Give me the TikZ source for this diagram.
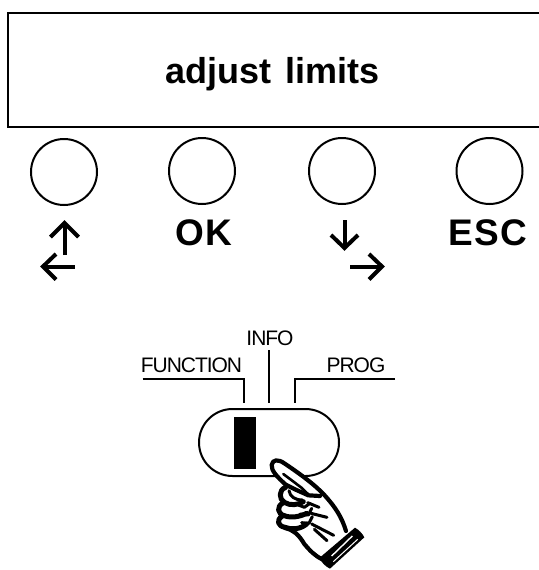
\documentclass[tikz,border=0pt]{standalone}
\usepackage{fontspec}
\setmainfont{Liberation Sans}
\newfontfamily\tightsans[LetterSpace=-5]{Liberation Sans}
\newfontfamily\widesans[LetterSpace=3,BoldFont={Liberation Sans Bold}]{Liberation Sans}
\tikzset{
  px/.style={x=1pt,y=-1pt},
  btn/.style={circle,draw,line width=2pt,inner sep=0pt,minimum size=66pt},
  keylab/.style={font=\widesans\bfseries\fontsize{37}{37}\selectfont,inner sep=0pt,anchor=base},
  swlab/.style={font=\tightsans\fontsize{21}{21}\selectfont,inner sep=0pt,anchor=base},
  leader/.style={line width=2pt},
  arw/.style={line width=4pt,line cap=butt,line join=miter},
  handline/.style={line width=4.2pt,line cap=round,line join=round},
  handfine/.style={line width=3pt,line cap=round,line join=round}
}
\begin{document}
\begin{tikzpicture}[px]
\useasboundingbox (0,0) rectangle (538,570);
\node[draw,line width=2.2pt,minimum width=545pt,minimum height=114pt,inner sep=0pt,anchor=north west] (disp) at (7,12) {};
\node[font=\bfseries\fontsize{36}{36}\selectfont,inner sep=0pt,anchor=base] (title) at (272.5,83) {adjust\hspace{0.12em} limits};
\node[btn] (b1) at (64,172) {};
\node[btn] (b2) at (202,171) {};
\node[btn] (b3) at (342,171) {};
\node[btn] (b4) at (489.5,171) {};
\node[keylab] (ok) at (204,245.5) {OK};
\node[keylab] (esc) at (488,245.5) {ESC};
% arrows
\draw[arw] (64.5,255) -- (64.5,224);
\draw[arw] (50.5,237) -- (64.5,223) -- (78.5,237);
\draw[arw] (74.5,266.5) -- (45,266.5);
\draw[arw] (56,254) -- (43,266.5) -- (56,279.5);
\draw[arw] (344.5,220) -- (344.5,246);
\draw[arw] (331,235) -- (344.5,248) -- (358,235);
\draw[arw] (350,266.5) -- (380,266.5);
\draw[arw] (369,254) -- (382,266.5) -- (369,279.5);
% switch
\node[swlab] (fn) at (191.5,372) {FUNCTION};
\node[swlab] (info) at (270,345) {INFO};
\node[swlab] (prog) at (356,372.5) {PROG};
\coordinate (fa) at (142.5,378.5);
\coordinate (fb) at (244,378.5);
\coordinate (fc) at (244,403);
\coordinate (ia) at (269,350);
\coordinate (ib) at (269,403);
\coordinate (pa) at (395,378.5);
\coordinate (pb) at (295,378.5);
\coordinate (pc) at (295,403);
\draw[leader] (fa) -- (fb) -- (fc);
\draw[leader] (ia) -- (ib);
\draw[leader] (pa) -- (pb) -- (pc);
\draw[line width=2pt,fill=white,rounded corners=33.5pt] (199,409) rectangle (339,476);
\fill (234,417) rectangle (255.5,468.5);
% hand
\begin{scope}[shift={(265,450)},x=0.3333pt,y=-0.3333pt]
% white body
\fill[white] (20,45) -- (35,28) -- (110,75) -- (215,180) -- (240,240) -- (170,325) -- (100,250) -- (45,200) -- (50,110) -- cycle;
% forefinger
\draw[handline] (62,104) .. controls (38,82) and (18,62) .. (20,45)
  .. controls (22,28) and (40,27) .. (58,40)
  .. controls (110,75) and (150,105) .. (178,135)
  .. controls (210,170) and (230,200) .. (243,243);
\draw[line width=2.6pt,line cap=round] (55,72) -- (108,112) -- (132,135);
\draw[handline] (62,104) -- (90,118) -- (130,136) -- (165,138);
% curled fingers, heavy
\draw[line width=5pt,line join=round,line cap=round] (62,112)
  .. controls (40,120) and (42,148) .. (58,157)
  .. controls (75,168) and (100,165) .. (115,155);
\draw[line width=5pt,line join=round,line cap=round] (55,158)
  .. controls (33,170) and (38,192) .. (58,197)
  .. controls (78,205) and (105,200) .. (125,190);
\draw[line width=5pt,line join=round,line cap=round] (52,198)
  .. controls (33,210) and (38,228) .. (60,232)
  .. controls (80,240) and (105,238) .. (125,222);
\draw[handline] (60,234) .. controls (85,240) and (100,252) .. (118,282)
  .. controls (135,302) and (150,318) .. (172,328);
% finger creases
\draw[handfine] (72,122) .. controls (75,140) and (90,150) .. (112,150);
\draw[handfine] (100,165) -- (118,172) -- (135,160);
\draw[handfine] (105,192) -- (130,195) -- (140,175);
\draw[handfine] (110,218) -- (132,220) -- (142,200);
\draw[handfine] (128,158) -- (162,172);
\draw[handfine] (138,190) -- (186,202);
\draw[handfine] (140,222) -- (206,256);
\draw[handfine] (148,238) -- (186,272);
% cuff
\fill (270,233) .. controls (282,240) and (292,250) .. (298,262)
  -- (195,356) .. controls (182,350) and (170,338) .. (163,324) -- cycle;
\draw[white,line width=1.4pt] (262,258) -- (200,318);
\draw[white,line width=1pt] (278,268) -- (205,335);
\end{scope}
\end{tikzpicture}
\end{document}
